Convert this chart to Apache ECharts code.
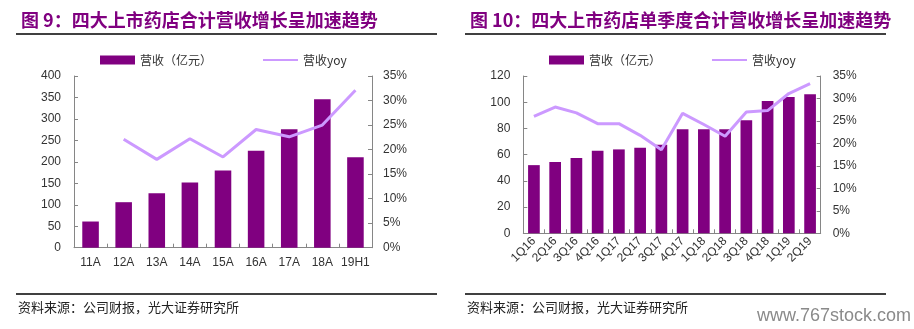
<!DOCTYPE html>
<html>
<head>
<meta charset="utf-8">
<script src="https://cdn.jsdelivr.net/npm/echarts@6/dist/echarts.min.js"></script>
<style>
  html, body { margin: 0; padding: 0; background: #fff; }
  #chart { width: 914px; height: 329px; }
</style>
</head>
<body>
<div id="chart"></div>
<script>
// Annual revenue of the four listed pharmacy chains
const yearCats = ['11A', '12A', '13A', '14A', '15A', '16A', '17A', '18A', '19H1'];
const yearRevenue = [61, 106, 127, 152, 180, 226, 276, 346, 211];      // 亿元
const yearYoy = [null, 22.1, 18.0, 22.2, 18.5, 24.1, 22.6, 25.0, 32.1]; // %

// Quarterly revenue
const quarterCats = ['1Q16', '2Q16', '3Q16', '4Q16', '1Q17', '2Q17', '3Q17', '4Q17',
                     '1Q18', '2Q18', '3Q18', '4Q18', '1Q19', '2Q19'];
const quarterRevenue = [52, 54.4, 57.4, 63, 64, 65.3, 67.6, 79.3, 79.3, 79.3, 86.2, 101, 104, 106];
const quarterYoy = [26.0, 28.1, 26.8, 24.4, 24.4, 21.8, 18.6, 26.7, 24.2, 21.6, 27.0, 27.3, 31.1, 33.3];

const leftTicksRevenue = { min: 0, max: 400, interval: 50 };
const rightTicksRevenue = { min: 0, max: 120, interval: 20 };
const yoyTicks = { min: 0, max: 35, interval: 5 };

const titles = ['图 9：四大上市药店合计营收增长呈加速趋势', '图 10：四大上市药店单季度合计营收增长呈加速趋势'];
const sourceText = '资料来源：公司财报，光大证券研究所';
const legendNames = ['营收（亿元）', '营收yoy'];

const BAR = '#800080';
const LINE = '#cc99ff';
const AXIS = '#868686';
const TXT = '#333333';
const NUM_FONT = 'Liberation Sans';
const CJK_FONT = 'Noto Sans CJK SC';

function valueAxis(gridIndex, ticks, pos, fmt, margin) {
  return {
    type: 'value', gridIndex, position: pos,
    min: ticks.min, max: ticks.max, interval: ticks.interval,
    axisLine: { show: true, lineStyle: { color: AXIS, width: 1 } },
    axisTick: { show: true, inside: true, length: 4, lineStyle: { color: AXIS } },
    splitLine: { show: false },
    axisLabel: { color: TXT, fontFamily: NUM_FONT, fontSize: 12, margin, formatter: fmt }
  };
}

function catAxis(gridIndex, cats, rotate, margin) {
  return {
    type: 'category', gridIndex, data: cats,
    axisLine: { show: true, lineStyle: { color: AXIS, width: 1 } },
    axisTick: { show: true, inside: true, length: 4, lineStyle: { color: AXIS } },
    axisLabel: { color: TXT, fontFamily: NUM_FONT, fontSize: 12, margin, rotate, interval: 0 }
  };
}

// Bar entry shows a filled block, line entry shows the stroke only
function legendAt(left) {
  return {
    left, top: 49, itemWidth: 35, itemHeight: 9, itemGap: 50,
    data: [
      { name: legendNames[0], icon: 'rect' },
      { name: legendNames[1], itemStyle: { opacity: 0 } }
    ],
    textStyle: { color: TXT, fontFamily: CJK_FONT, fontSize: 12 }
  };
}

function ruleLine(x1, x2, y) {
  return { type: 'line', shape: { x1, y1: y, x2, y2: y }, style: { stroke: '#000', lineWidth: 1.5 } };
}

function plainText(x, y, text, size, color, font, weight) {
  return {
    type: 'text', x, y,
    style: { text, fill: color, font: (weight || 'normal') + ' ' + size + 'px "' + font + '"', textVerticalAlign: 'middle' }
  };
}

const chart = echarts.init(document.getElementById('chart'), null, { renderer: 'canvas' });
chart.setOption({
  animation: false,
  backgroundColor: '#ffffff',
  title: [
    { text: titles[0], left: 16, top: 6, textStyle: { color: '#800080', fontFamily: CJK_FONT, fontSize: 18, fontWeight: 'bold' } },
    { text: titles[1], left: 465, top: 6, textStyle: { color: '#800080', fontFamily: CJK_FONT, fontSize: 18, fontWeight: 'bold' } }
  ],
  legend: [legendAt(95), legendAt(544)],
  grid: [
    { left: 74, right: 542, top: 76, bottom: 81.3 },
    { left: 523.3, right: 93.3, top: 76, bottom: 95.7 }
  ],
  xAxis: [
    catAxis(0, yearCats, 0, 9),
    catAxis(1, quarterCats, 45, 6)
  ],
  yAxis: [
    valueAxis(0, leftTicksRevenue, 'left', '{value}', 13),
    valueAxis(0, yoyTicks, 'right', '{value}%', 11),
    valueAxis(1, rightTicksRevenue, 'left', '{value}', 13),
    valueAxis(1, yoyTicks, 'right', '{value}%', 12)
  ],
  series: [
    { name: legendNames[0], type: 'bar', xAxisIndex: 0, yAxisIndex: 0, data: yearRevenue,
      barWidth: '50%', itemStyle: { color: BAR } },
    { name: legendNames[1], type: 'line', xAxisIndex: 0, yAxisIndex: 1, data: yearYoy,
      symbol: 'none', lineStyle: { color: LINE, width: 3 }, itemStyle: { color: LINE } },
    { name: legendNames[0], type: 'bar', xAxisIndex: 1, yAxisIndex: 2, data: quarterRevenue,
      barWidth: '55%', itemStyle: { color: BAR } },
    { name: legendNames[1], type: 'line', xAxisIndex: 1, yAxisIndex: 3, data: quarterYoy,
      symbol: 'none', lineStyle: { color: LINE, width: 3 }, itemStyle: { color: LINE } }
  ],
  graphic: [
    ruleLine(16, 437, 34),
    ruleLine(465, 886, 34),
    ruleLine(16, 437, 294),
    ruleLine(465, 886, 294),
    plainText(18, 307, sourceText, 13, '#222', CJK_FONT),
    plainText(467, 307, sourceText, 13, '#222', CJK_FONT),
    plainText(757, 316, 'www.767stock.com', 18, '#8a8a8a', NUM_FONT)
  ]
});
</script>
</body>
</html>
